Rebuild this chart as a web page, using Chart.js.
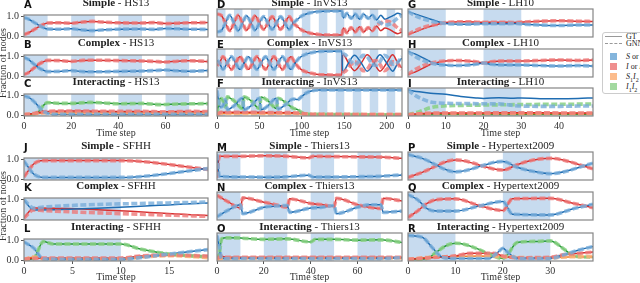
<!DOCTYPE html>
<html>
<head>
<meta charset="utf-8">
<script src="https://cdn.jsdelivr.net/npm/chart.js@4.4.0/dist/chart.umd.min.js"></script>
<style>
  body { margin: 0; width: 640px; height: 283px; overflow: hidden; background: #fff; position: relative; font-family: "Liberation Serif", serif; color: #222; }
  canvas { position: absolute; }
  .ttl { position: absolute; font-size: 11px; line-height: 11px; white-space: nowrap; transform: translateX(-50%); }
  .ltr { position: absolute; font: bold 10px/10px "DejaVu Sans", sans-serif; color: #111; }
  .axl { position: absolute; font-size: 10px; line-height: 10px; white-space: nowrap; transform: translate(-50%, -50%); color: #333; }
  .ylab { transform: translate(-50%, -50%) rotate(-90deg); }
  #legend { position: absolute; left: 602px; top: 32px; width: 70px; height: 60px; border: 1px solid #ccc; border-radius: 3px; background: #fff; font-size: 8px; }
  #legend div { position: absolute; white-space: nowrap; line-height: 8px; }
  #legend sub { font-size: 6px; line-height: 0; }
</style>
</head>
<body>
<div id="legend">
  <div style="left:2px;top:3px;width:17px;border-top:1.2px solid #999"></div>
  <div style="left:23px;top:0px">GT</div>
  <div style="left:2px;top:10px;width:17px;border-top:1.2px dashed #999"></div>
  <div style="left:23px;top:7px">GNN</div>
  <div style="left:7px;top:20px;width:7px;height:7px;background:#84b5dc"></div>
  <div style="left:23px;top:20px"><i>S</i> or <i>S</i><sub>1</sub><i>S</i><sub>2</sub></div>
  <div style="left:7px;top:30px;width:7px;height:7px;background:#ef8f8f"></div>
  <div style="left:23px;top:30px"><i>I</i> or <i>I</i><sub>1</sub><i>I</i><sub>2</sub></div>
  <div style="left:7px;top:40px;width:7px;height:7px;background:#fcbc8c"></div>
  <div style="left:23px;top:40px"><i>S</i><sub>1</sub><i>I</i><sub>2</sub></div>
  <div style="left:7px;top:50px;width:7px;height:7px;background:#a3d9a0"></div>
  <div style="left:23px;top:50px"><i>I</i><sub>1</sub><i>I</i><sub>2</sub></div>
</div>
<script>
// tick values and shaded periods per network
const hs13Ticks = [0, 20, 40, 60];
const hs13Bands = [[0, 10], [20, 30], [40, 50], [60, 70]];
const invsTicks = [0, 50, 100, 150, 200];
const invsBands = [[0, 10], [20, 30], [40, 50], [60, 70], [80, 90], [100, 110], [120, 130], [140, 150], [160, 170], [180, 190], [200, 210]];
const lh10Ticks = [0, 10, 20, 30, 40];
const lh10Bands = [[0, 10], [20, 30]];
const sfhhTicks = [0, 5, 10, 15];
const sfhhBands = [[0, 10]];
const thiersTicks = [0, 20, 40, 60];
const thiersBands = [[0, 10], [20, 30], [40, 50], [60, 70]];
const hyperTicks = [0, 10, 20, 30];
const hyperBands = [[0, 10], [20, 30]];
const yTicks = [0, 0.5, 1];

// HS13
const hs13SimpleS = [[0,.92],[2,.84],[4,.7],[6,.56],[8,.43],[10,.35],[15,.34],[20,.36],[25,.3],[29,.27],[33,.3],[40,.34],[50,.35],[55,.33],[60,.38],[65,.36],[70,.34],[78,.33]];
const hs13SimpleI = [[0,.08],[2,.16],[4,.3],[6,.44],[8,.57],[10,.65],[15,.66],[20,.64],[25,.7],[29,.73],[33,.7],[40,.66],[50,.65],[55,.67],[60,.62],[65,.64],[70,.66],[78,.67]];
const hs13ComplexS = [[0,.93],[2,.82],[4,.62],[6,.43],[8,.3],[10,.22],[15,.23],[20,.27],[25,.22],[30,.21],[40,.23],[50,.25],[55,.27],[60,.3],[65,.26],[70,.24],[78,.27]];
const hs13ComplexI = [[0,.07],[2,.18],[4,.38],[6,.57],[8,.7],[10,.78],[15,.77],[20,.73],[25,.78],[30,.79],[40,.77],[50,.75],[55,.73],[60,.7],[65,.74],[70,.76],[78,.73]];
const hs13InterS = [[0,.95],[2,.88],[4,.7],[6,.45],[8,.2],[10,.08],[12,.04],[30,.03],[78,.03]];
const hs13InterI = [[0,.02],[3,.06],[6,.12],[10,.18],[20,.2],[30,.19],[40,.18],[50,.18],[60,.16],[70,.18],[78,.17]];
const hs13InterSI = [[0,.02],[4,.06],[8,.1],[12,.12],[30,.12],[50,.11],[78,.11]];
const hs13InterII = [[0,0],[4,.03],[6,.15],[8,.45],[10,.62],[15,.58],[20,.58],[28,.63],[34,.6],[40,.56],[50,.58],[58,.52],[65,.55],[78,.57]];

// InVS13
const invsSimpleS = [[0,.15],[5,.2],[10,.5],[15,.8],[20,.5],[25,.2],[30,.5],[35,.78],[40,.5],[45,.22],[50,.5],[55,.75],[60,.5],[65,.25],[70,.5],[75,.75],[80,.5],[85,.25],[90,.5],[95,.65],[100,.78],[110,.9],[120,.95],[130,.97],[147,.97],[149,.7],[153,.88],[158,.68],[163,.85],[168,.65],[173,.85],[178,.68],[183,.82],[188,.62],[193,.8],[198,.65],[203,.72],[208,.8],[213,.88],[218,.82]];
const invsSimpleI = [[0,.85],[5,.8],[10,.5],[15,.2],[20,.5],[25,.8],[30,.5],[35,.22],[40,.5],[45,.78],[50,.5],[55,.25],[60,.5],[65,.75],[70,.5],[75,.25],[80,.5],[85,.75],[90,.5],[95,.35],[100,.22],[110,.1],[120,.05],[130,.03],[147,.03],[149,.3],[153,.12],[158,.32],[163,.15],[168,.35],[173,.15],[178,.32],[183,.18],[188,.38],[193,.2],[198,.3],[203,.25],[208,.15],[213,.08],[218,.15]];
const invsSimpleSGnn = [[0,.15],[5,.2],[10,.5],[15,.8],[20,.5],[25,.2],[30,.5],[35,.78],[40,.5],[45,.22],[50,.5],[55,.75],[60,.5],[65,.25],[70,.5],[75,.75],[80,.5],[85,.25],[90,.5],[95,.65],[100,.78],[110,.9],[120,.95],[130,.97],[147,.97],[149,.7],[153,.88],[158,.68],[163,.85],[168,.65],[173,.85],[178,.68],[183,.8],[188,.6],[193,.5],[198,.42],[203,.45],[208,.55],[213,.7],[218,.8]];
const invsSimpleIGnn = [[0,.85],[5,.8],[10,.5],[15,.2],[20,.5],[25,.8],[30,.5],[35,.22],[40,.5],[45,.78],[50,.5],[55,.25],[60,.5],[65,.75],[70,.5],[75,.25],[80,.5],[85,.75],[90,.5],[95,.35],[100,.22],[110,.1],[120,.05],[130,.03],[147,.03],[149,.3],[153,.12],[158,.32],[163,.15],[168,.35],[173,.15],[178,.32],[183,.2],[188,.4],[193,.5],[198,.58],[203,.55],[208,.45],[213,.3],[218,.2]];
const invsComplexS = [[0,.6],[3,.5],[7,.25],[12,.5],[17,.75],[22,.5],[27,.25],[32,.5],[37,.75],[42,.5],[47,.25],[52,.5],[57,.75],[62,.5],[67,.25],[72,.5],[77,.75],[82,.5],[87,.25],[92,.5],[97,.7],[105,.85],[115,.93],[125,.96],[147,.97],[148,.15],[155,.5],[162,.8],[170,.5],[177,.18],[185,.5],[192,.82],[200,.5],[207,.18],[213,.5],[218,.7]];
const invsComplexI = [[0,.4],[3,.5],[7,.75],[12,.5],[17,.25],[22,.5],[27,.75],[32,.5],[37,.25],[42,.5],[47,.75],[52,.5],[57,.25],[62,.5],[67,.75],[72,.5],[77,.25],[82,.5],[87,.75],[92,.5],[97,.3],[105,.15],[115,.07],[125,.04],[147,.03],[148,.85],[155,.5],[162,.2],[170,.5],[177,.82],[185,.5],[192,.18],[200,.5],[207,.82],[213,.5],[218,.3]];
const invsComplexSGnn = [[0,.6],[3,.5],[7,.25],[12,.5],[17,.75],[22,.5],[27,.25],[32,.5],[37,.75],[42,.5],[47,.25],[52,.5],[57,.75],[62,.5],[67,.25],[72,.5],[77,.75],[82,.5],[87,.25],[92,.5],[97,.7],[105,.85],[115,.93],[125,.96],[147,.97],[148,.9],[152,.8],[157,.6],[162,.45],[167,.55],[172,.8],[177,.75],[182,.5],[187,.4],[192,.55],[197,.8],[202,.7],[207,.45],[212,.5],[218,.75]];
const invsComplexIGnn = [[0,.4],[3,.5],[7,.75],[12,.5],[17,.25],[22,.5],[27,.75],[32,.5],[37,.25],[42,.5],[47,.75],[52,.5],[57,.25],[62,.5],[67,.75],[72,.5],[77,.25],[82,.5],[87,.75],[92,.5],[97,.3],[105,.15],[115,.07],[125,.04],[147,.03],[148,.1],[152,.2],[157,.4],[162,.55],[167,.45],[172,.2],[177,.25],[182,.5],[187,.6],[192,.45],[197,.2],[202,.3],[207,.55],[212,.5],[218,.25]];
const invsInterS = [[0,.95],[2,.5],[4,.3],[7,.35],[10,.6],[12,.2],[20,.35],[30,.65],[32,.2],[40,.35],[50,.65],[52,.2],[60,.35],[70,.65],[72,.22],[80,.38],[90,.62],[95,.6],[100,.72],[105,.85],[110,.92],[120,.97],[218,.97]];
const invsInterI = [[0,.02],[5,.1],[30,.1],[60,.09],[90,.08],[100,.06],[110,.02],[218,.01]];
const invsInterSI = [[0,.02],[5,.05],[90,.05],[100,.03],[110,.01],[218,.01]];
const invsInterII = [[0,.02],[2,.45],[4,.65],[7,.55],[10,.3],[12,.7],[20,.55],[30,.25],[32,.7],[40,.55],[50,.25],[52,.7],[60,.55],[70,.25],[72,.65],[80,.5],[90,.25],[95,.2],[100,.08],[110,.02],[218,0]];

// LH10
const lh10SimpleS = [[0,.95],[2,.85],[4,.75],[6,.65],[8,.55],[10,.48],[12,.46],[15,.45],[20,.47],[25,.47],[28,.48],[32,.44],[35,.42],[40,.4],[45,.42],[49,.42]];
const lh10SimpleI = [[0,.05],[2,.15],[4,.27],[6,.37],[8,.45],[10,.52],[12,.54],[15,.55],[20,.53],[25,.53],[28,.52],[32,.55],[35,.57],[40,.59],[45,.57],[49,.56]];
const lh10SimpleSGnn = [[0,.95],[2,.78],[4,.66],[6,.58],[8,.52],[10,.48],[12,.46],[15,.45],[20,.47],[25,.47],[28,.48],[32,.44],[35,.42],[40,.4],[45,.42],[49,.42]];
const lh10SimpleIGnn = [[0,.05],[2,.2],[4,.32],[6,.4],[8,.46],[10,.52],[12,.54],[15,.55],[20,.53],[25,.53],[28,.52],[32,.55],[35,.57],[40,.59],[45,.57],[49,.56]];
const lh10ComplexS = [[0,.95],[2,.85],[4,.7],[6,.55],[8,.45],[10,.42],[12,.4],[15,.41],[18,.45],[20,.5],[22,.45],[25,.42],[30,.42],[35,.4],[40,.38],[45,.4],[49,.38]];
const lh10ComplexI = [[0,.05],[2,.15],[4,.3],[6,.45],[8,.53],[10,.58],[12,.6],[15,.59],[18,.55],[20,.5],[22,.55],[25,.58],[30,.58],[35,.6],[40,.62],[45,.6],[49,.62]];
const lh10ComplexSGnn = [[0,.95],[2,.75],[4,.6],[6,.5],[8,.44],[10,.42],[12,.4],[15,.41],[18,.45],[20,.5],[22,.45],[25,.42],[30,.42],[35,.4],[40,.38],[45,.4],[49,.38]];
const lh10ComplexIGnn = [[0,.05],[2,.25],[4,.4],[6,.5],[8,.55],[10,.58],[12,.6],[15,.59],[18,.55],[20,.5],[22,.55],[25,.58],[30,.58],[35,.6],[40,.62],[45,.6],[49,.62]];
const lh10InterS = [[0,.97],[3,.9],[6,.84],[10,.8],[14,.72],[18,.66],[20,.64],[24,.67],[28,.65],[30,.66],[35,.63],[40,.63],[45,.64],[49,.66]];
const lh10InterSGnn = [[0,.97],[2,.75],[4,.6],[6,.5],[10,.45],[15,.44],[20,.43],[25,.42],[28,.36],[30,.34],[35,.33],[40,.33],[45,.34],[49,.34]];
const lh10InterI = [[0,0],[3,.04],[6,.06],[10,.07],[20,.07],[30,.08],[40,.07],[49,.07]];
const lh10InterSI = [[0,0],[3,.03],[6,.05],[49,.05]];
const lh10InterII = [[0,0],[10,.005],[49,.01]];
const lh10InterIIGnn = [[0,0],[3,.12],[6,.28],[10,.35],[15,.37],[20,.38],[30,.4],[40,.41],[49,.42]];

// SFHH
const sfhhSimpleS = [[0,.9],[1,.25],[2,.08],[10,.08],[19,.52]];
const sfhhSimpleI = [[0,.1],[1,.75],[2,.92],[10,.92],[19,.48]];
const sfhhComplexS = [[0,.95],[1,.45],[19,.8]];
const sfhhComplexSGnn = [[0,.95],[1,.55],[2,.6],[19,.85]];
const sfhhComplexI = [[0,.05],[1,.55],[19,.18]];
const sfhhComplexIGnn = [[0,.05],[1,.45],[2,.42],[19,.13]];
const sfhhInterS = [[0,.9],[1,.6],[2,.05],[10,.03],[12,.12],[15,.3],[19,.52]];
const sfhhInterI = [[0,.05],[2,.1],[10,.1],[12,.2],[15,.25],[19,.2]];
const sfhhInterSI = [[0,.02],[1,.15],[2,.06],[10,.06],[13,.18],[15,.22],[19,.12]];
const sfhhInterII = [[0,0],[1,.08],[2,.92],[3,.8],[10,.8],[12,.55],[15,.3],[19,.15]];

// Thiers13
const thiersSimpleS = [[0,.95],[1,.1],[10,.07],[20,.06],[30,.08],[39,.14],[41,.07],[50,.07],[60,.08],[70,.1],[79,.15]];
const thiersSimpleI = [[0,.05],[1,.88],[10,.88],[20,.9],[30,.88],[39,.82],[41,.88],[50,.87],[60,.86],[70,.85],[79,.8]];
const thiersComplexS = [[0,.08],[5,.35],[10,.55],[11,.2],[20,.45],[25,.5],[30,.52],[31,.25],[40,.42],[45,.45],[50,.52],[51,.2],[60,.45],[65,.55],[70,.55],[71,.25],[79,.3]];
const thiersComplexI = [[0,.92],[5,.65],[10,.42],[11,.82],[20,.65],[25,.55],[30,.45],[31,.78],[40,.6],[45,.55],[50,.48],[51,.8],[60,.55],[65,.45],[70,.4],[71,.8],[79,.7]];
const thiersInterS = [[0,.95],[1,.5],[2,.05],[40,.05],[70,.05],[79,.08]];
const thiersInterI = [[0,.05],[2,.14],[4,.1],[40,.1],[79,.1]];
const thiersInterSI = [[0,.02],[3,.06],[40,.07],[79,.07]];
const thiersInterII = [[0,0],[1,.25],[2,.82],[4,.86],[10,.85],[20,.8],[30,.82],[40,.7],[42,.8],[50,.8],[60,.77],[70,.78],[79,.68]];

// Hypertext2009
const hyperSimpleS = [[0,.95],[3,.8],[10,.27],[20,.68],[23,.45],[26,.3],[30,.2],[39,.61]];
const hyperSimpleI = [[0,.05],[3,.25],[10,.74],[20,.34],[23,.55],[26,.72],[30,.8],[39,.39]];
const hyperComplexS = [[0,.95],[2,.75],[4,.4],[6,.3],[10,.3],[15,.5],[20,.68],[22,.18],[30,.15],[35,.4],[39,.57]];
const hyperComplexI = [[0,.05],[2,.3],[4,.6],[6,.75],[10,.78],[15,.52],[20,.32],[22,.78],[30,.8],[35,.6],[39,.43]];
const hyperInterS = [[0,.95],[3,.88],[5,.5],[7,.12],[9,.05],[17,.05],[19,.3],[20,.45],[21,.3],[23,.05],[30,.05],[33,.2],[36,.38],[39,.52]];
const hyperInterI = [[0,.02],[5,.08],[10,.15],[13,.25],[18,.25],[20,.15],[23,.08],[30,.1],[33,.2],[36,.25],[39,.3]];
const hyperInterSI = [[0,.02],[5,.1],[10,.12],[15,.15],[20,.12],[25,.08],[30,.08],[35,.12],[39,.12]];
const hyperInterII = [[0,0],[4,.05],[6,.3],[8,.55],[10,.65],[12,.6],[15,.4],[18,.15],[20,.05],[21,.2],[23,.68],[27,.72],[30,.74],[33,.4],[35,.15],[39,.1]];

const colors = {
  S: { dark: '#1f6db2', light: 'rgba(120,172,218,0.8)' },
  I: { dark: '#d62f2f', light: 'rgba(238,120,120,0.8)' },
  SI: { dark: '#f07f2a', light: 'rgba(252,175,118,0.85)' },
  II: { dark: '#2a9a3a', light: 'rgba(135,208,130,0.85)' }
};

const panels = [
  { letter: 'A', kind: 'Simple', net: 'HS13', col: 0, row: 0, xmax: 78, ticks: hs13Ticks, bands: hs13Bands,
    series: [['S', hs13SimpleS], ['I', hs13SimpleI]] },
  { letter: 'B', kind: 'Complex', net: 'HS13', col: 0, row: 1, xmax: 78, ticks: hs13Ticks, bands: hs13Bands,
    series: [['S', hs13ComplexS], ['I', hs13ComplexI]] },
  { letter: 'C', kind: 'Interacting', net: 'HS13', col: 0, row: 2, xmax: 78, ticks: hs13Ticks, bands: hs13Bands,
    series: [['S', hs13InterS], ['I', hs13InterI], ['SI', hs13InterSI], ['II', hs13InterII]] },
  { letter: 'D', kind: 'Simple', net: 'InVS13', col: 1, row: 0, xmax: 218, ticks: invsTicks, bands: invsBands,
    series: [['S', invsSimpleS, invsSimpleSGnn], ['I', invsSimpleI, invsSimpleIGnn]] },
  { letter: 'E', kind: 'Complex', net: 'InVS13', col: 1, row: 1, xmax: 218, ticks: invsTicks, bands: invsBands,
    series: [['S', invsComplexS, invsComplexSGnn], ['I', invsComplexI, invsComplexIGnn]] },
  { letter: 'F', kind: 'Interacting', net: 'InVS13', col: 1, row: 2, xmax: 218, ticks: invsTicks, bands: invsBands,
    series: [['S', invsInterS], ['I', invsInterI], ['SI', invsInterSI], ['II', invsInterII]] },
  { letter: 'G', kind: 'Simple', net: 'LH10', col: 2, row: 0, xmax: 49, ticks: lh10Ticks, bands: lh10Bands,
    series: [['S', lh10SimpleS, lh10SimpleSGnn], ['I', lh10SimpleI, lh10SimpleIGnn]] },
  { letter: 'H', kind: 'Complex', net: 'LH10', col: 2, row: 1, xmax: 49, ticks: lh10Ticks, bands: lh10Bands,
    series: [['S', lh10ComplexS, lh10ComplexSGnn], ['I', lh10ComplexI, lh10ComplexIGnn]] },
  { letter: 'I', kind: 'Interacting', net: 'LH10', col: 2, row: 2, xmax: 49, ticks: lh10Ticks, bands: lh10Bands,
    series: [['S', lh10InterS, lh10InterSGnn], ['I', lh10InterI], ['SI', lh10InterSI], ['II', lh10InterII, lh10InterIIGnn]] },
  { letter: 'J', kind: 'Simple', net: 'SFHH', col: 0, row: 3, xmax: 19, ticks: sfhhTicks, bands: sfhhBands,
    series: [['S', sfhhSimpleS], ['I', sfhhSimpleI]] },
  { letter: 'K', kind: 'Complex', net: 'SFHH', col: 0, row: 4, xmax: 19, ticks: sfhhTicks, bands: sfhhBands,
    series: [['S', sfhhComplexS, sfhhComplexSGnn], ['I', sfhhComplexI, sfhhComplexIGnn]] },
  { letter: 'L', kind: 'Interacting', net: 'SFHH', col: 0, row: 5, xmax: 19, ticks: sfhhTicks, bands: sfhhBands,
    series: [['S', sfhhInterS], ['I', sfhhInterI], ['SI', sfhhInterSI], ['II', sfhhInterII]] },
  { letter: 'M', kind: 'Simple', net: 'Thiers13', col: 1, row: 3, xmax: 79, ticks: thiersTicks, bands: thiersBands,
    series: [['S', thiersSimpleS], ['I', thiersSimpleI]] },
  { letter: 'N', kind: 'Complex', net: 'Thiers13', col: 1, row: 4, xmax: 79, ticks: thiersTicks, bands: thiersBands,
    series: [['S', thiersComplexS], ['I', thiersComplexI]] },
  { letter: 'O', kind: 'Interacting', net: 'Thiers13', col: 1, row: 5, xmax: 79, ticks: thiersTicks, bands: thiersBands,
    series: [['S', thiersInterS], ['I', thiersInterI], ['SI', thiersInterSI], ['II', thiersInterII]] },
  { letter: 'P', kind: 'Simple', net: 'Hypertext2009', col: 2, row: 3, xmax: 39, ticks: hyperTicks, bands: hyperBands,
    series: [['S', hyperSimpleS], ['I', hyperSimpleI]] },
  { letter: 'Q', kind: 'Complex', net: 'Hypertext2009', col: 2, row: 4, xmax: 39, ticks: hyperTicks, bands: hyperBands,
    series: [['S', hyperComplexS], ['I', hyperComplexI]] },
  { letter: 'R', kind: 'Interacting', net: 'Hypertext2009', col: 2, row: 5, xmax: 39, ticks: hyperTicks, bands: hyperBands,
    series: [['S', hyperInterS], ['I', hyperInterI], ['SI', hyperInterSI], ['II', hyperInterII]] }
];

// plot frame positions on the page
const colLeft = [24, 217, 408];
const colRight = [208, 402, 593];
const rowTop = [9, 49, 88, 152, 192, 233];
const rowH = 28;

// shaded periods behind the lines, grey frame on top
const framePlugin = {
  id: 'frame',
  beforeDatasetsDraw(chart, args, opts) {
    const { ctx, chartArea: a, scales: { x } } = chart;
    ctx.save();
    ctx.fillStyle = 'rgba(115,165,215,0.4)';
    opts.bands.forEach(b => {
      const x0 = Math.max(a.left, x.getPixelForValue(b[0]));
      const x1 = Math.min(a.right, x.getPixelForValue(b[1]));
      ctx.fillRect(x0, a.top, x1 - x0, a.bottom - a.top);
    });
    ctx.restore();
  },
  afterDraw(chart) {
    const { ctx, chartArea: a } = chart;
    ctx.save();
    ctx.strokeStyle = '#858585';
    ctx.lineWidth = 1.2;
    ctx.strokeRect(a.left, a.top, a.right - a.left, a.bottom - a.top);
    ctx.restore();
  }
};

const toPoints = arr => arr.map(p => ({ x: p[0], y: p[1] }));
const tickFont = { family: 'Liberation Serif', size: 10 };

function addDiv(cls, html, left, top) {
  const d = document.createElement('div');
  d.className = cls;
  d.innerHTML = html;
  d.style.left = left + 'px';
  d.style.top = top + 'px';
  document.body.appendChild(d);
  return d;
}

function makePanel(p) {
  const L = colLeft[p.col], W = colRight[p.col] - L;
  const T = rowTop[p.row], H = rowH;
  const padL = 30, padR = 4, padT = 2, padB = 18;
  const showY = p.col === 0;
  const showX = p.row === 2 || p.row === 5;

  const cv = document.createElement('canvas');
  cv.width = W + padL + padR;
  cv.height = H + padT + padB;
  cv.style.left = (L - padL) + 'px';
  cv.style.top = (T - padT) + 'px';
  cv.style.width = cv.width + 'px';
  cv.style.height = cv.height + 'px';
  document.body.appendChild(cv);

  // GT: thin dark solid, GNN: thick light dashed drawn on top
  const datasets = [];
  p.series.forEach(s => {
    const c = colors[s[0]];
    datasets.push({ data: toPoints(s[1]), borderColor: c.dark, borderWidth: 1.5, order: 1 });
    datasets.push({ data: toPoints(s[2] || s[1]), borderColor: c.light, borderWidth: 3.6, borderDash: [6, 2.5], order: 0 });
  });

  new Chart(cv, {
    type: 'line',
    data: { datasets },
    options: {
      responsive: false,
      animation: false,
      devicePixelRatio: 1,
      layout: { padding: { top: padT, right: padR, left: 0, bottom: 0 }, autoPadding: false },
      elements: { point: { radius: 0 }, line: { cubicInterpolationMode: 'monotone' } },
      plugins: { legend: { display: false }, tooltip: { enabled: false }, frame: { bands: p.bands } },
      scales: {
        x: {
          type: 'linear', min: 0, max: p.xmax,
          afterBuildTicks: s => { s.ticks = p.ticks.map(v => ({ value: v })); },
          afterFit: s => { s.height = padB; },
          grid: { display: showX, drawOnChartArea: false, tickLength: 3, color: '#555' },
          border: { display: false },
          ticks: { display: showX, font: tickFont, color: '#333', padding: 1, maxRotation: 0, autoSkip: false, callback: v => String(v) }
        },
        y: {
          min: -0.05, max: 1.05,
          afterBuildTicks: s => { s.ticks = yTicks.map(v => ({ value: v })); },
          afterFit: s => { s.width = padL; },
          grid: { display: showY, drawOnChartArea: false, tickLength: 3, color: '#555' },
          border: { display: false },
          ticks: { display: showY, font: tickFont, color: '#333', padding: 2, callback: v => v.toFixed(1) }
        }
      }
    },
    plugins: [framePlugin]
  });

  addDiv('ttl', '<b>' + p.kind + '</b> - ' + p.net, (L + colRight[p.col]) / 2, T - 12);
  addDiv('ltr', p.letter, L, T - 9);
}

panels.forEach(makePanel);

// shared axis labels
[63, 206].forEach(y => addDiv('axl ylab', 'Fraction of nodes', 3, y));
[133, 277].forEach(y => {
  [0, 1, 2].forEach(c => addDiv('axl', 'Time step', (colLeft[c] + colRight[c]) / 2, y));
});
</script>
</body>
</html>
